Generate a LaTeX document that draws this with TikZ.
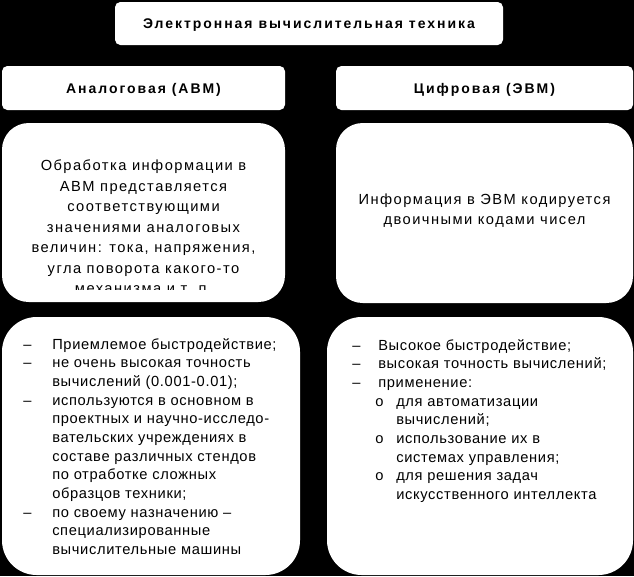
\documentclass[tikz,border=0pt]{standalone}
\usepackage{fontspec}
\setmainfont{Liberation Sans}
\usetikzlibrary{positioning}
\tikzset{
  headbox/.style={fill=white, rounded corners=4pt, inner sep=0pt, text depth=0pt, font=\bfseries\fontsize{10.5}{12}\selectfont\addfontfeature{LetterSpace=14}},
  descbox/.style={fill=white, rounded corners=20pt, inner sep=0pt},
  listbox/.style={fill=white, rounded corners=26pt, inner sep=0pt},
  bodytext/.style={inner sep=0pt, font=\fontsize{11}{15.4}\selectfont\addfontfeature{LetterSpace=10}},
  listtext/.style={inner sep=0pt, font=\fontsize{11}{14}\selectfont\addfontfeature{LetterSpace=4.5}}
}

\begin{document}
\begin{tikzpicture}[x=0.75pt, y=-0.75pt]
  \fill[black] (0,0) rectangle (634,576);
  \useasboundingbox (0,0) rectangle (634,576);

  % header row
  \node[headbox, minimum width=291pt, minimum height=32.25pt] (evt) at (309,23.5) {Электронная вычислительная техника};
  \node[headbox, minimum width=212.25pt, minimum height=33pt] (avm) at (143.5,88) {Аналоговая (АВМ)};
  \node[headbox, minimum width=222.75pt, minimum height=33pt] (evm) at (484.5,88) {Цифровая (ЭВМ)};

  % description boxes
  \node[descbox, minimum width=212.25pt, minimum height=134.25pt] (avmdesc) at (143.5,212.5) {};
  \node[descbox, minimum width=222.75pt, minimum height=135pt] (evmdesc) at (484.5,213) {};
  \begin{scope}
    \clip (2,123) rectangle (285,289);
    \node[bodytext, anchor=base] (avmtxt) at (143.5,170.7) {\begin{tabular}[t]{@{}c@{}}
      Обработка информации в\\АВМ представляется\\соответствующими\\значениями аналоговых\\
      величин: тока, напряжения,\\угла поворота какого-то\\механизма и т. п.\end{tabular}};
  \end{scope}
  \node[bodytext, anchor=base] (evmtxt) at (484.5,204) {\begin{tabular}[t]{@{}c@{}}
    Информация в ЭВМ кодируется\\двоичными кодами чисел\end{tabular}};

  % lists
  \node[listbox, minimum width=223.5pt, minimum height=193.5pt] (avmlist) at (151,446) {};
  \node[listbox, minimum width=229.5pt, minimum height=193.5pt] (evmlist) at (480,446) {};
  \node[listtext, anchor=base west] (avmitems) at (23,349.3) {\begin{tabular}[t]{@{}p{21.75pt}@{}l@{}}
    –&Приемлемое быстродействие;\\
    –&не очень высокая точность\\
     &вычислений (0.001-0.01);\\
    –&используются в основном в\\
     &проектных и научно-исследо-\\
     &вательских учреждениях в\\
     &составе различных стендов\\
     &по отработке сложных\\
     &образцов техники;\\
    –&по своему назначению –\\
     &специализированные\\
     &вычислительные машины\end{tabular}};
  \node[listtext, anchor=base west] (evmitems) at (352,350) {\begin{tabular}[t]{@{}p{17.25pt}@{}p{15.75pt}@{}l@{}}
    –&\multicolumn{2}{@{\hskip2.25pt}l@{}}{Высокое быстродействие;}\\
    –&\multicolumn{2}{@{\hskip2.25pt}l@{}}{высокая точность вычислений;}\\
    –&\multicolumn{2}{@{\hskip2.25pt}l@{}}{применение:}\\
     &o&для автоматизации\\
     & &вычислений;\\
     &o&использование их в\\
     & &системах управления;\\
     &o&для решения задач\\
     & &искусственного интеллекта\end{tabular}};
\end{tikzpicture}
\end{document}
